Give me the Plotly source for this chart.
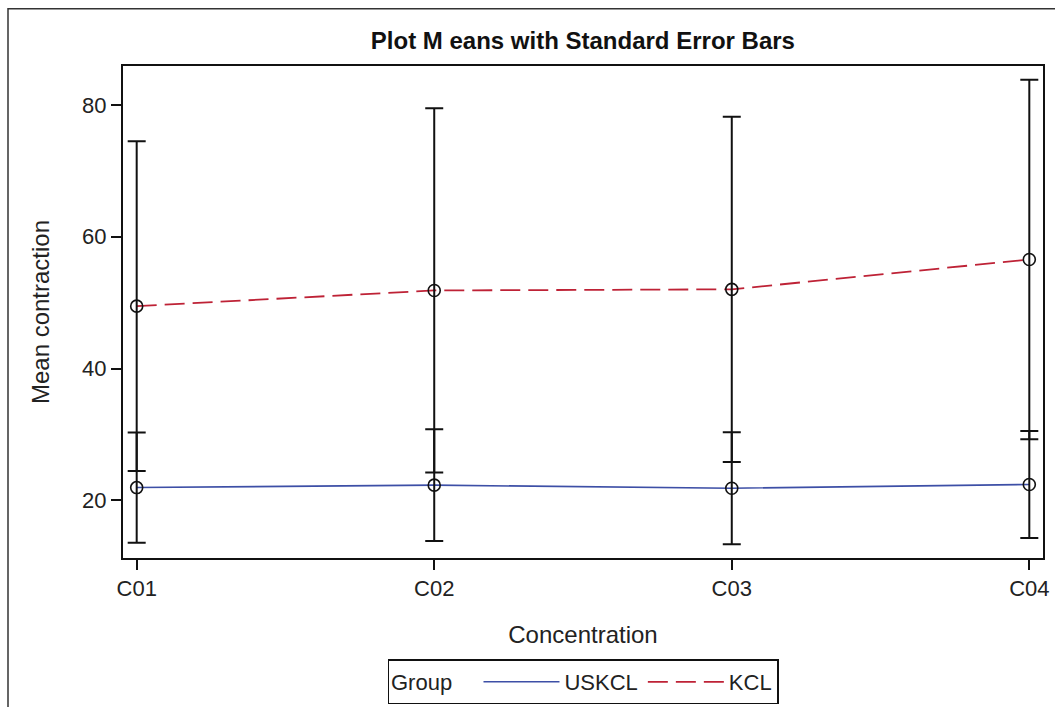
import plotly.graph_objects as go

categories = ["C01", "C02", "C03", "C04"]
uskcl_mean = [21.93, 22.30, 21.83, 22.40]
uskcl_se = [8.36, 8.48, 8.50, 8.13]
kcl_mean = [49.47, 51.85, 52.02, 56.55]
kcl_se = [25.02, 27.65, 26.20, 27.27]
y_ticks = [20, 40, 60, 80]

BLUE = "#3D4FA6"
RED = "#BE2236"
TXT = "#222222"
FONT = "Liberation Sans, Arial, sans-serif"

fig = go.Figure()
# lines (shown in legend)
fig.add_trace(go.Scatter(
    x=categories, y=uskcl_mean, name="USKCL", mode="lines",
    line=dict(color=BLUE, width=1.6),
))
fig.add_trace(go.Scatter(
    x=categories, y=kcl_mean, name="KCL", mode="lines",
    line=dict(color=RED, width=1.8, dash="20px,8px"),
))
# markers + standard error bars
fig.add_trace(go.Scatter(
    x=categories, y=uskcl_mean, name="USKCL", mode="markers", showlegend=False,
    marker=dict(symbol="circle-open", size=12, color="#111111", line=dict(width=1.6)),
    error_y=dict(type="data", array=uskcl_se, visible=True, color="#111111", thickness=2, width=9),
))
fig.add_trace(go.Scatter(
    x=categories, y=kcl_mean, name="KCL", mode="markers", showlegend=False,
    marker=dict(symbol="circle-open", size=12, color="#111111", line=dict(width=1.6)),
    error_y=dict(type="data", array=kcl_se, visible=True, color="#111111", thickness=2, width=9),
))

fig.update_layout(
    width=1055, height=707,
    margin=dict(l=123, r=12, t=66, b=149, autoexpand=False),
    paper_bgcolor="white", plot_bgcolor="white",
    font=dict(family=FONT, size=20, color=TXT),
    title=dict(text="<b>Plot M eans with Standard Error Bars</b>", x=0.5525, xanchor="center",
               y=0.943, yanchor="middle", font=dict(size=24, color="#111111")),
    showlegend=True,
    legend=dict(orientation="h", x=0.5, xanchor="center", y=-0.252, yanchor="middle",
                title=dict(text="Group   ", side="left", font=dict(size=22)),
                bordercolor="#111111", borderwidth=1.5, font=dict(size=22),
                itemwidth=76, bgcolor="white", valign="middle"),
    xaxis=dict(type="category", categoryorder="array", categoryarray=categories,
               range=[-0.046, 3.046], showline=True, linecolor="#111111", linewidth=2,
               mirror=True, ticks="outside", ticklen=10, tickwidth=1.5, tickcolor="#111111",
               showgrid=False, zeroline=False, automargin=False,
               tickfont=dict(size=22, color=TXT),
               title=dict(text="Concentration", font=dict(size=24, color=TXT), standoff=26)),
    yaxis=dict(range=[11.24, 85.92], tickvals=y_ticks, showline=True, linecolor="#111111",
               linewidth=2, mirror=True, ticks="outside", ticklen=10, tickwidth=1.5,
               tickcolor="#111111", showgrid=False, zeroline=False, automargin=False,
               tickfont=dict(size=22, color=TXT),
               title=dict(text="Mean contraction", font=dict(size=24, color=TXT), standoff=26)),
)

# outer frame of the figure (top and left edges visible)
fig.add_shape(type="rect", xref="paper", yref="paper",
              x0=-0.125, x1=1.08, y0=-0.5, y1=1.1165,
              line=dict(color="#333333", width=1.5), layer="below")

fig.write_html("out.html")
